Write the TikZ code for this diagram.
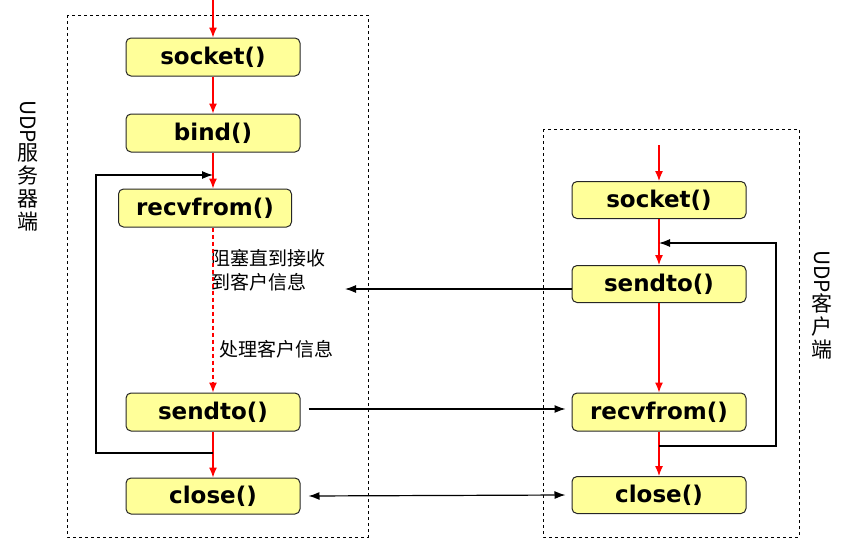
\documentclass[tikz,border=0pt]{standalone}
\usepackage{fontspec}
\setmainfont{DejaVu Sans}
\newfontfamily\cjk{Noto Sans CJK SC}
\usepackage{graphicx}
\usepackage{tikz}
\usetikzlibrary{arrows.meta, positioning}
\definecolor{boxyellow}{HTML}{FFFF99}

\begin{document}
\begin{tikzpicture}[x=1pt, y=-1pt,
    func/.style={draw=black!85, line width=1pt, fill=boxyellow, rounded corners=5pt, minimum width=174pt, minimum height=38pt, inner sep=0pt, font=\fontsize{23}{26}\selectfont\bfseries},
    flow/.style={red, line width=1.2pt, -{Latex[length=10pt,width=8pt]}},
    msg/.style={black, line width=1.2pt, -{Latex[length=11pt,width=8pt]}},
    frame/.style={draw, line width=0.9pt, dash pattern=on 3pt off 3pt},
    note/.style={font=\cjk\fontsize{19}{24}\selectfont, align=left, inner sep=0pt},
    side/.style={font=\cjk\fontsize{21}{23}\selectfont, align=center, inner sep=0pt}]
        \useasboundingbox (0,0) rectangle (847,538);
        % frames
        \draw[frame] (67,15) rectangle (368,537);
        \draw[frame] (543,129) rectangle (799,537);
        \node[side, anchor=north] (srvlabel) at (28,100) {\rotatebox{-90}{UDP}\\服\\务\\器\\端};
        \node[side, anchor=north] (clilabel) at (822,250) {\rotatebox{-90}{UDP}\\客\\户\\端};
        % server
        \node[func] (ssock) at (213,57) {socket()};
        \node[func] (sbind) at (213,133) {bind()};
        \node[func, minimum width=173pt] (srecv) at (205,208) {recvfrom()};
        \node[func] (ssend) at (213,412) {sendto()};
        \node[func, minimum height=36pt] (sclose) at (213,496) {close()};
        \node[note, anchor=west] (wait) at (211,270) {阻塞直到接收\\到客户信息};
        \node[note, anchor=west] (handle) at (219,349) {处理客户信息};
        % client
        \node[func, minimum height=37pt] (csock) at (659,200) {socket()};
        \node[func, minimum height=37pt] (csend) at (659,284) {sendto()};
        \node[func] (crecv) at (659,412) {recvfrom()};
        \node[func, minimum height=37pt] (cclose) at (659,495) {close()};
        % flow
        \coordinate (sin) at (213,0);
        \coordinate (cin) at (659,145);
        \draw[flow] (sin) -- (ssock.north);
        \draw[flow] (ssock) -- (sbind);
        \draw[flow] (sbind.south) -- (sbind.south |- srecv.north);
        \draw[flow, dash pattern=on 4pt off 3pt] (sbind.south |- srecv.south) -- (ssend.north);
        \draw[flow] (ssend) -- (sclose);
        \draw[flow] (cin) -- (csock.north);
        \draw[flow] (csock) -- (csend);
        \draw[flow] (csend) -- (crecv);
        \draw[flow] (crecv) -- (cclose);
        % loops
        \coordinate (sloop) at (213,453);
        \coordinate (sback) at (96,175);
        \draw[msg] (sloop) -| (sback) -- (sback -| ssock.south);
        \coordinate (cloop) at (659,446);
        \coordinate (cback) at (776,243);
        \draw[msg] (cloop) -| (cback) -- (cback -| csock.south);
        % messages
        \coordinate (waitpt) at (345,289);
        \draw[msg] (waitpt -| csend.west) -- (waitpt);
        \draw[msg] ([xshift=8pt, yshift=3pt]ssend.east) -- ([xshift=-6pt, yshift=3pt]crecv.west);
        \draw[msg, {Latex[length=11pt,width=8pt]}-{Latex[length=11pt,width=8pt]}] ([xshift=8pt]sclose.east) -- ([xshift=-6pt]cclose.west);
    \end{tikzpicture}
\end{document}
